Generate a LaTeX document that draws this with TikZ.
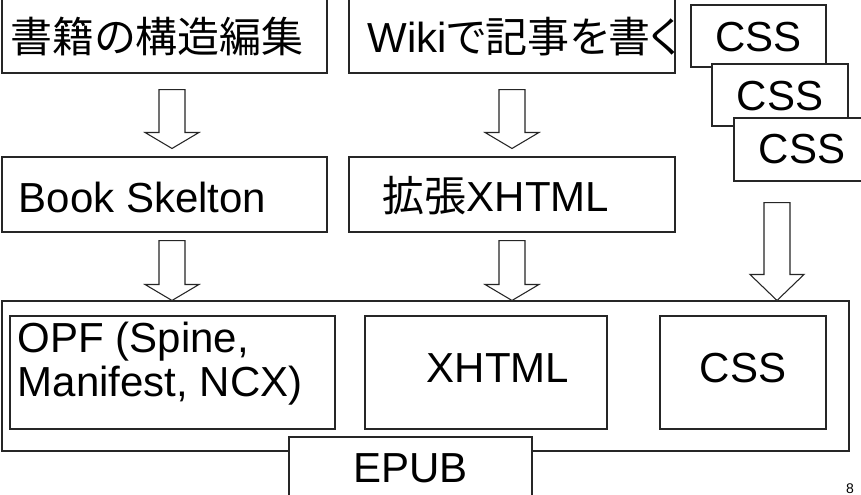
\documentclass[tikz,border=0pt]{standalone}
\usepackage{fontspec}
\setmainfont{Liberation Sans}
\newfontfamily\jp{Noto Sans CJK JP}[RawFeature=+palt]
\usetikzlibrary{calc,positioning}
\newdimen\px \px=0.75pt
% hollow block arrow: [head length] {shaft top} {tip}
\newcommand\hollowarrow[3][16]{%
  \draw[hollow] ($#2+(-13,0)$) -- ($#2+(13,0)$) -- ($#3+(13,-#1)$) -- ($#3+(27,-#1)$)
    -- #3 -- ($#3+(-27,-#1)$) -- ($#3+(-13,-#1)$) -- cycle;}
\begin{document}
\begin{tikzpicture}[x=0.75pt,y=-0.75pt,
  box/.style={draw=black!85,line width=0.8pt,fill=white,inner sep=0pt},
  lbl/.style={inner sep=0pt,anchor=base west,align=left,font=\fontsize{31.5}{33}\selectfont},
  clbl/.style={lbl,anchor=base},
  hollow/.style={draw=black!85,line width=0.8pt,fill=white}]
  \fill[white] (0,0) rectangle (861,494);
  \clip (0,0) rectangle (861,494);
  % sources
  \node[box,minimum width=325\px,minimum height=75\px] (bs) at (164.5,35.5) {};
  \node[lbl] (bs-t) at ($(bs.north west)+(9,55)$) {\jp 書籍の構造編集};
  \node[box,minimum width=326\px,minimum height=75\px] (wk) at (512,35.5) {};
  \node[lbl] (wk-t) at ($(wk.north west)+(19,55)$) {Wiki{\jp で記事を書く}};
  \node[box,minimum width=135\px,minimum height=62\px] (css1) at (758.5,36) {};
  \node[clbl] (css1-t) at ($(css1.north)+(0,47)$) {CSS};
  \node[box,minimum width=136\px,minimum height=62\px] (css2) at (780,95) {};
  \node[clbl] (css2-t) at ($(css2.north)+(0,47)$) {CSS};
  \node[box,minimum width=136\px,minimum height=63\px] (css3) at (802,149.5) {};
  \node[clbl] (css3-t) at ($(css3.north)+(0,46)$) {CSS};
  % intermediate
  \node[box,minimum width=325\px,minimum height=75\px] (sk) at (164.5,194.5) {};
  \node[lbl] (sk-t) at ($(sk.north west)+(17,56)$) {Book Skelton};
  \node[box,minimum width=326\px,minimum height=75\px] (xh) at (512,194.5) {};
  \node[lbl] (xh-t) at ($(xh.north west)+(34,55)$) {{\jp 拡張}XHTML};
  % package
  \node[box,minimum width=847\px,minimum height=150\px] (pkg) at (425.5,376) {};
  \node[box,minimum width=325\px,minimum height=113\px] (opf) at (172.5,372.5) {};
  \node[lbl] (opf-t) at ($(opf.north west)+(8,81)$) {OPF (Spine,\\Manifest, NCX)};
  \node[box,minimum width=242\px,minimum height=113\px] (xhtml) at (486,372.5) {};
  \node[lbl] (xhtml-t) at ($(xhtml.north west)+(62,67)$) {XHTML};
  \node[box,minimum width=166\px,minimum height=113\px] (cssp) at (743,372.5) {};
  \node[clbl] (cssp-t) at ($(cssp.north)+(0,67)$) {CSS};
  \node[box,minimum width=243\px,minimum height=75\px] (epub) at (410.5,474.5) {};
  \node[clbl] (epub-t) at ($(epub.north)+(0,46)$) {EPUB};
  % arrows
  \coordinate (a1) at ($(bs.south)+(7.5,16)$);
  \coordinate (a2) at ($(wk.south)+(0,16)$);
  \coordinate (a3) at ($(sk.south)+(7.5,8)$);
  \coordinate (a4) at ($(xh.south)+(0,8)$);
  \coordinate (a5) at ($(css3.south)+(-25,21)$);
  \hollowarrow{(a1)}{($(a1 |- sk.north)+(0,-8)$)}
  \hollowarrow{(a2)}{($(a2 |- xh.north)+(0,-8)$)}
  \hollowarrow{(a3)}{(a3 |- pkg.north)}
  \hollowarrow{(a4)}{(a4 |- pkg.north)}
  \hollowarrow[26]{(a5)}{(a5 |- pkg.north)}
  \node[inner sep=0pt,anchor=base,font=\fontsize{10.5}{12}\selectfont] (pg) at (850,493) {8};
\end{tikzpicture}
\end{document}
